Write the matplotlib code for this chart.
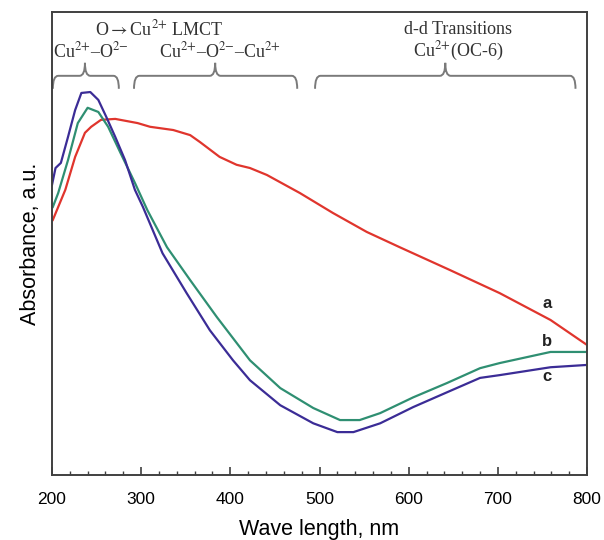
import matplotlib
matplotlib.use("Agg")
import matplotlib.pyplot as plt
from matplotlib.path import Path
from matplotlib.patches import PathPatch
from matplotlib.ticker import MultipleLocator

plt.rcParams["mathtext.fontset"] = "stix"

# UV-vis spectra, wavelength (nm) / absorbance (a.u.)
wl_a = [201, 215, 226, 237, 244, 255, 271, 296, 310, 336, 355, 366, 388,
        407, 422, 441, 478, 515, 553, 590, 646, 702, 759, 800]
abs_a = [0.551, 0.616, 0.687, 0.739, 0.752, 0.767, 0.769, 0.760, 0.752,
         0.745, 0.734, 0.719, 0.687, 0.670, 0.663, 0.648, 0.609, 0.566,
         0.525, 0.492, 0.443, 0.393, 0.335, 0.281]

wl_b = [201, 207, 218, 229, 240, 252, 263, 277, 293, 307, 329, 355, 385,
        422, 456, 493, 523, 545, 568, 605, 643, 680, 702, 759, 800]
abs_b = [0.579, 0.609, 0.680, 0.760, 0.793, 0.784, 0.752, 0.695, 0.631,
         0.572, 0.492, 0.421, 0.341, 0.248, 0.188, 0.145, 0.119, 0.119,
         0.134, 0.168, 0.199, 0.231, 0.242, 0.266, 0.266]

wl_c = [200, 204, 210, 218, 226, 233, 243, 252, 261, 271, 282, 293, 302,
        324, 351, 377, 403, 422, 456, 493, 520, 538, 568, 605, 643, 680,
        702, 759, 800]
abs_c = [0.626, 0.663, 0.674, 0.730, 0.788, 0.825, 0.827, 0.810, 0.773,
         0.730, 0.680, 0.616, 0.579, 0.479, 0.393, 0.313, 0.248, 0.205,
         0.151, 0.112, 0.093, 0.093, 0.112, 0.147, 0.179, 0.210, 0.216,
         0.233, 0.238]

# band regions: (start nm, end nm, centre nm)
regions = [(201, 275, 237), (292, 475, 383), (495, 787, 641)]

fig = plt.figure(figsize=(6.04, 5.4), dpi=100)
ax = fig.add_axes([0.086, 0.120, 0.886, 0.858])

ax.plot(wl_a, abs_a, color="#e0352d", lw=1.6)
ax.plot(wl_b, abs_b, color="#2f8f72", lw=1.6)
ax.plot(wl_c, abs_c, color="#3b2c96", lw=1.6)

lab = dict(fontsize=12, fontweight="bold", family="Liberation Sans",
           color="#222222", ha="center", va="center")
ax.text(755, 0.371, "a", **lab)
ax.text(755, 0.289, "b", **lab)
ax.text(755, 0.212, "c", **lab)


def brace(x0, x1, xm, yb=0.862, ye=0.834, yt=0.890, r=6):
    verts = [(x0, ye), (x0, yb), (x0 + r, yb),
             (xm - r, yb), (xm, yb), (xm, yt),
             (xm, yb), (xm + r, yb),
             (x1 - r, yb), (x1, yb), (x1, ye)]
    codes = [Path.MOVETO, Path.CURVE3, Path.CURVE3,
             Path.LINETO, Path.CURVE3, Path.CURVE3,
             Path.CURVE3, Path.CURVE3,
             Path.LINETO, Path.CURVE3, Path.CURVE3]
    ax.add_patch(PathPatch(Path(verts, codes), fill=False,
                           edgecolor="#7a7a7a", lw=1.4))


for x0, x1, xm in regions:
    brace(x0, x1, xm)

txt = dict(fontsize=13, family="Liberation Serif", color="#333333",
           ha="center", va="center")
ax.text(244, 0.914, "Cu$^{2{+}}$–O$^{2{-}}$", **txt)
ax.text(320, 0.963, "O${\\rightarrow}$Cu$^{2{+}}$ LMCT", **txt)
ax.text(388, 0.914, "Cu$^{2{+}}$–O$^{2{-}}$–Cu$^{2{+}}$", **txt)
ax.text(655, 0.963, "d-d Transitions", **txt)
ax.text(655, 0.914, "Cu$^{2{+}}$(OC-6)", **txt)

ax.set_xlim(200, 800)
ax.set_ylim(0, 1)
ax.xaxis.set_major_locator(MultipleLocator(100))
ax.xaxis.set_minor_locator(MultipleLocator(20))
ax.tick_params(axis="x", which="major", direction="in", length=6,
               width=1.2, color="#404040", labelsize=12.5, pad=12)
ax.tick_params(axis="x", which="minor", direction="in", length=3,
               width=1.0, color="#404040")
ax.set_yticks([])
for sp in ax.spines.values():
    sp.set_color("#404040")
    sp.set_linewidth(1.4)
for t in ax.get_xticklabels():
    t.set_family("Liberation Sans")

ax.set_xlabel("Wave length, nm", fontsize=15.5, family="Liberation Sans",
              labelpad=9)
ax.set_ylabel("Absorbance, a.u.", fontsize=15.5, family="Liberation Sans",
              labelpad=8)

fig.savefig("out.png", dpi=100)
